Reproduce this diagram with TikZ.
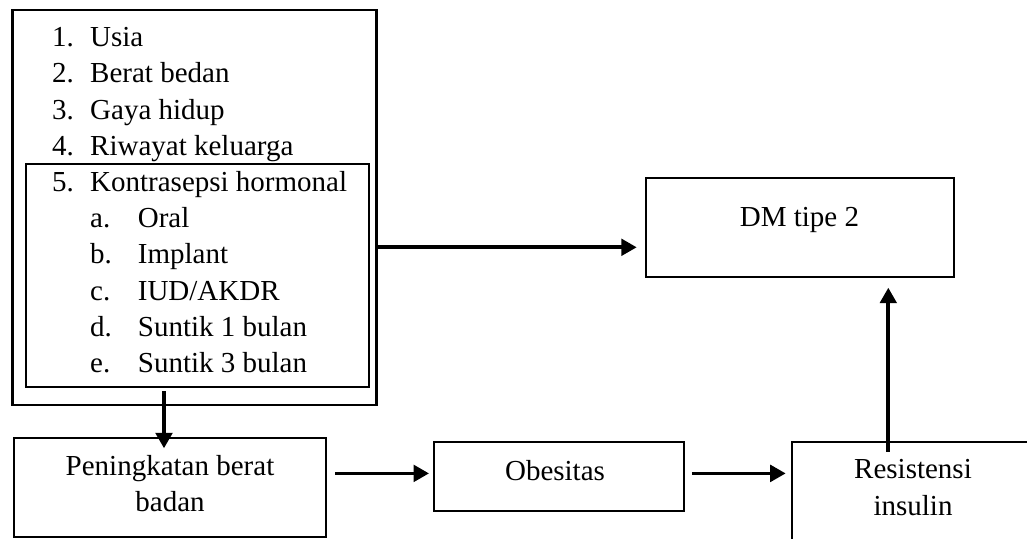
\documentclass[tikz,border=0pt]{standalone}
\usepackage{fontspec}
\setmainfont{Liberation Serif}
\usetikzlibrary{arrows.meta,positioning}
\tikzset{
  box/.style={draw,line width=2pt,inner sep=0pt},
  txt/.style={inner sep=0pt,font=\fontsize{29}{36.7}\selectfont},
  flow/.style={line width=3.7pt,-{Triangle[length=15.5pt,width=16.5pt]}}
}

\begin{document}
\begin{tikzpicture}[x=1pt,y=-1pt]
    \useasboundingbox (0,0) rectangle (1027,538);
    \clip (0,0) rectangle (1027,538);

    % First we draw the boxes
    \node[box,line width=2.7pt,minimum width=364.4pt,minimum height=395pt] (faktor) at (194.5,207.5) {};
    \node[box,minimum width=343.3pt,minimum height=222.4pt] (kontra) at (197.4,275.5) {};
    \node[box,minimum width=308.3pt,minimum height=99pt] (dm) at (799.9,227.8) {};
    \node[box,minimum width=312pt,minimum height=99pt] (naik) at (170,487.2) {};
    \node[box,minimum width=250.3pt,minimum height=69.3pt] (obes) at (559.2,476.4) {};
    \node[box,minimum width=242pt,minimum height=100pt] (resist) at (913,491.7) {};

    % the list of factors
    \foreach \i/\num/\item in {0/1./Usia, 1/2./Berat bedan, 2/3./Gaya hidup, 3/4./Riwayat keluarga, 4/5./Kontrasepsi hormonal}
    {
        \node[txt,anchor=base west] (num\i) at (52,{46.7+36.2*\i}) {\num};
        \node[txt,anchor=base west] (item\i) at (90,{46.7+36.2*\i}) {\item};
    }
    \foreach \i/\num/\item in {5/a./Oral, 6/b./Implant, 7/c./IUD\slash AKDR, 8/d./Suntik 1 bulan, 9/e./Suntik 3 bulan}
    {
        \node[txt,anchor=base west] (num\i) at (90,{46.7+36.2*\i}) {\num};
        \node[txt,anchor=base west] (item\i) at (137.7,{46.7+36.2*\i}) {\item};
    }

    % box texts
    \node[txt,anchor=base] (dmtxt) at (799.5,226.7) {DM tipe 2};
    \node[txt,anchor=base] (naiktxt) at (170,475) {Peningkatan berat};
    \node[txt,anchor=base] (naiktxtb) at (170,511.7) {badan};
    \node[txt,anchor=base] (obestxt) at (555,480) {Obesitas};
    \node[txt,anchor=base] (resisttxt) at (913,478.3) {Resistensi};
    \node[txt,anchor=base] (resisttxtb) at (913,515) {insulin};

    % Connect boxes with arrows
    \coordinate (f2d) at ([yshift=-39.8pt]faktor.east);
    \draw[flow,shorten >=8pt] (f2d) -- (f2d -| dm.west);
    \coordinate (k2n) at ([xshift=-33.4pt]kontra.south);
    \draw[flow,shorten <=3.3pt,shorten >=-11.6pt] (k2n) -- (k2n |- naik.north);
    \coordinate (n2o) at ([yshift=3pt]obes.west);
    \draw[flow,shorten <=8pt,shorten >=4pt] (n2o -| naik.east) -- (n2o);
    \coordinate (o2r) at ([yshift=3pt]obes.east);
    \draw[flow,shorten <=6.4pt,shorten >=5.3pt] (o2r) -- (o2r -| resist.west);
    \coordinate (r2d) at ([xshift=-24.7pt]resist.north);
    \draw[flow,shorten <=-11pt,shorten >=9.4pt] (r2d) -- (r2d |- dm.south);
\end{tikzpicture}
\end{document}
